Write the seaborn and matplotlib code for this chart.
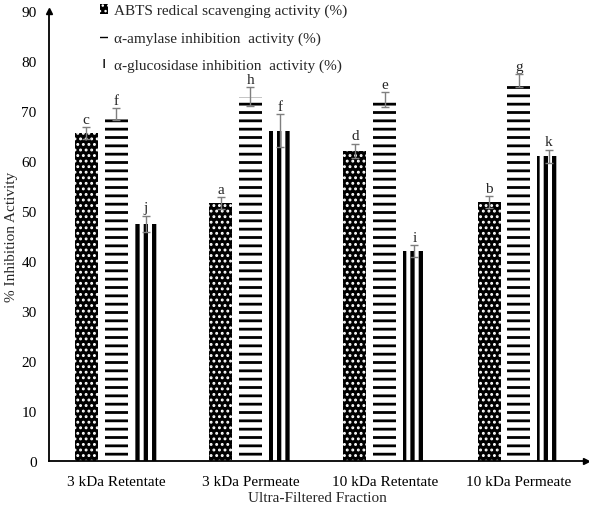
import numpy as np
import pandas as pd
import matplotlib
matplotlib.use("Agg")
import matplotlib.pyplot as plt
import seaborn as sns

# Data
fractions = ["3 kDa Retentate", "3 kDa Permeate", "10 kDa Retentate", "10 kDa Permeate"]
assays = ["ABTS redical scavenging activity (%)",
          "\u03b1-amylase inhibition  activity (%)",
          "\u03b1-glucosidase inhibition  activity (%)"]
abts = [65.6, 51.6, 62.1, 51.8]
amylase = [69.4, 72.9, 72.3, 76.1]
glucosidase = [47.5, 66.1, 42.0, 61.0]
abts_err = [1.2, 1.2, 1.4, 1.2]
amylase_err = [1.2, 1.9, 1.5, 1.3]
glucosidase_err = [1.6, 3.3, 1.2, 1.3]
abts_letters = ["c", "a", "d", "b"]
amylase_letters = ["f", "h", "e", "g"]
glucosidase_letters = ["j", "f", "i", "k"]

df = pd.DataFrame({
    "fraction": fractions * 3,
    "assay": [assays[0]] * 4 + [assays[1]] * 4 + [assays[2]] * 4,
    "value": abts + amylase + glucosidase,
})
errs = [abts_err, amylase_err, glucosidase_err]
letters = [abts_letters, amylase_letters, glucosidase_letters]

sns.set_style("white")
plt.rcParams["font.family"] = ["Liberation Serif", "DejaVu Serif"]
plt.rcParams["font.size"] = 11

fig = plt.figure(figsize=(5.89, 5.10), dpi=100)
ax = fig.add_axes([49 / 589, 48 / 510, 537 / 589, 450 / 510])

sns.barplot(data=df, x="fraction", y="value", hue="assay", order=fractions,
            hue_order=assays, palette=["white"] * 3, errorbar=None,
            width=0.667, gap=0.23, legend=False, ax=ax)

# hatch styles: white dots on black, thick horizontal dashes, thick vertical stripes
styles = [
    dict(face="black", edge="white", hatch="...", hw=1.3),
    dict(face="white", edge="black", hatch="--", hw=2.0),
    dict(face="white", edge="black", hatch="||", hw=3.1),
]
for cont, st, er, lt in zip(ax.containers, styles, errs, letters):
    for bar, e, t in zip(cont.patches, er, lt):
        bar.set_facecolor(st["face"])
        bar.set_edgecolor(st["edge"])
        bar.set_linewidth(0)
        bar.set_hatch(st["hatch"])
        if hasattr(bar, "set_hatch_linewidth"):
            bar.set_hatch_linewidth(st["hw"])
        xc = bar.get_x() + bar.get_width() / 2
        h = bar.get_height()
        ax.errorbar(xc, h, yerr=e, color="#7f7f7f", elinewidth=1,
                    capsize=3, capthick=1, zorder=5)
        ax.text(xc, h + e + 0.2, t, ha="center", va="bottom", fontsize=11)

ax.set_ylim(0, 90)
ax.set_xlim(-0.5, 3.5)
ax.set_yticks(np.arange(0, 91, 10))
ax.tick_params(axis="both", length=0, labelsize=11, colors="black")
ax.tick_params(axis="y", pad=9)
ax.tick_params(axis="x", pad=10)
ax.set_xlabel("Ultra-Filtered Fraction", fontsize=11, labelpad=2)
ax.set_ylabel("% Inhibition Activity", fontsize=11, labelpad=2)

for s in ["top", "right"]:
    ax.spines[s].set_visible(False)
for s in ["left", "bottom"]:
    ax.spines[s].set_color("black")
    ax.spines[s].set_linewidth(1.3)
# arrow heads on the axes
ax.plot(1, 0, ">", color="black", ms=5, transform=ax.transAxes, clip_on=False)
ax.plot(0, 1, "^", color="black", ms=5, transform=ax.transAxes, clip_on=False)

ax.legend(ax.containers, assays, loc="upper left",
          bbox_to_anchor=(100 / 589, 1 - 5 / 510), bbox_transform=fig.transFigure,
          frameon=False, fontsize=11, handlelength=0.55, handleheight=0.55,
          handletextpad=0.35, labelspacing=0.9, borderpad=0, borderaxespad=0)

fig.savefig("out.png", dpi=100)
